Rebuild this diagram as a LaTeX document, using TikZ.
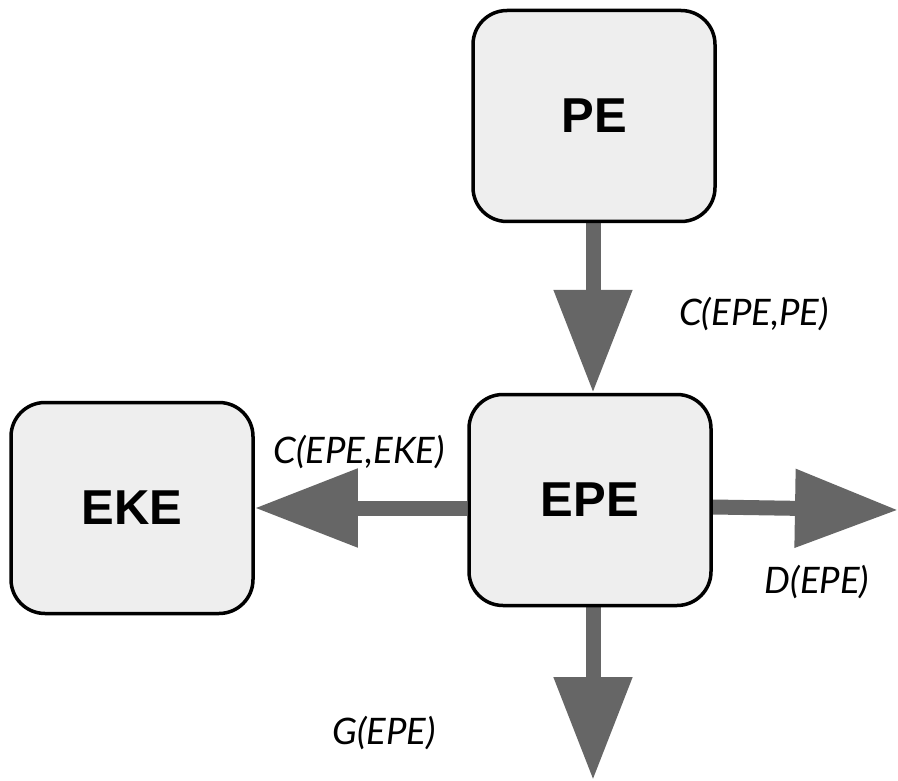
\documentclass[tikz,border=0pt]{standalone}
\usepackage{fontspec}
\setmainfont{Liberation Sans}
\newfontfamily\labelfont{Lato}
\usetikzlibrary{arrows.meta,backgrounds}
\begin{document}
\begin{tikzpicture}[x=1pt,y=-1pt,
  box/.style={draw=black, line width=3.5pt, fill=boxgray, rounded corners=34pt,
    minimum width=242pt, minimum height=211pt, inner sep=0pt,
    font=\fontsize{49}{49}\selectfont\bfseries},
  flow/.style={draw=arrowgray, line width=15pt,
    -{Triangle[length=103pt,width=75pt]}},
  lbl/.style={font=\labelfont\itshape\fontsize{36.5}{36.5}\selectfont, inner sep=0pt}]
\definecolor{boxgray}{HTML}{EEEEEE}
\definecolor{arrowgray}{HTML}{666666}
\useasboundingbox (0,0) rectangle (898,781);

% the three stores
\node[box] (pe)  at (594,116) {PE};
\node[box] (epe) at (590,500) {EPE};
\node[box] (eke) at (132,508) {EKE};

% free ends of the outgoing flows
\coordinate (dout) at (898,510);
\coordinate (gout) at (593,780);

% flows, drawn behind the boxes
\begin{pgfonlayer}{background}
  \draw[flow] ([xshift=-1pt]pe.south) -- ([xshift=3pt]epe.north);
  \draw[flow] ([yshift=-7pt]epe.east) -- (dout);
  \draw[flow] ([yshift=-8pt]epe.west) -- (eke.east);
  \draw[flow] ([xshift=3pt]epe.south) -- (gout);
\end{pgfonlayer}

% flow labels
\node[lbl] (lcp) at (754,314) {C(EPE,PE)};
\node[lbl] (lck) at (359,452) {C(EPE,EKE)};
\node[lbl] (ld)  at (817,582) {D(EPE)};
\node[lbl] (lg)  at (384,733) {G(EPE)};
\end{tikzpicture}
\end{document}
